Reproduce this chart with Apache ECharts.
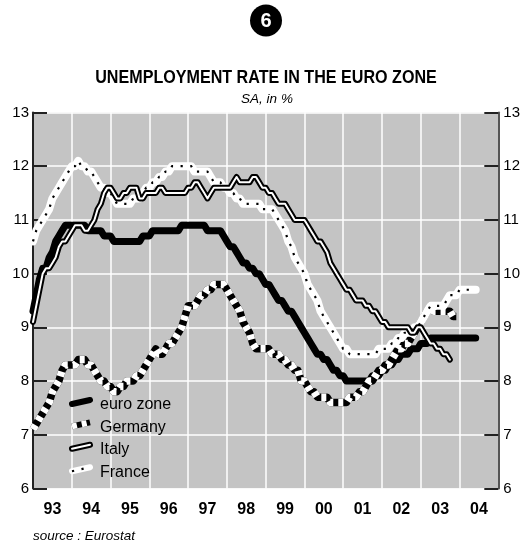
<!DOCTYPE html>
<html><head><meta charset="utf-8">
<style>html,body{margin:0;padding:0;background:#fff}#c{width:523px;height:548px}</style>
<script src="https://cdn.jsdelivr.net/npm/echarts@6/dist/echarts.min.js"></script>
</head><body><div id="c"></div>
<script>
const yearLabels=['93','94','95','96','97','98','99','00','01','02','03','04'];
const legendNames=['euro zone','Germany','Italy','France'];
const yTicks=[6,7,8,9,10,11,12,13];
const euroZone=[
9.3,9.6,9.9,10.1,10.1,10.3,10.4,10.6,10.7,10.8,10.9,10.9,
10.9,10.9,10.9,10.9,10.9,10.8,10.8,10.8,10.8,10.8,10.7,10.7,
10.7,10.6,10.6,10.6,10.6,10.6,10.6,10.6,10.6,10.6,10.7,10.7,
10.7,10.8,10.8,10.8,10.8,10.8,10.8,10.8,10.8,10.8,10.9,10.9,
10.9,10.9,10.9,10.9,10.9,10.9,10.8,10.8,10.8,10.8,10.8,10.7,
10.6,10.5,10.5,10.4,10.3,10.2,10.2,10.1,10.1,10.0,10.0,9.9,
9.8,9.8,9.7,9.6,9.5,9.5,9.4,9.3,9.3,9.2,9.1,9.0,
8.9,8.8,8.7,8.6,8.5,8.5,8.4,8.4,8.3,8.2,8.2,8.1,
8.1,8.0,8.0,8.0,8.0,8.0,8.0,8.0,8.0,8.1,8.1,8.1,
8.2,8.2,8.3,8.3,8.4,8.4,8.5,8.5,8.5,8.6,8.6,8.6,
8.7,8.7,8.7,8.8,8.8,8.8,8.8,8.8,8.8,8.8,8.8,8.8,
8.8,8.8,8.8,8.8,8.8,8.8];
const germany=[
7.1,7.2,7.3,7.4,7.5,7.6,7.8,7.9,8.0,8.2,8.3,8.3,
8.3,8.3,8.4,8.4,8.4,8.3,8.3,8.2,8.1,8.0,8.0,7.9,
7.9,7.8,7.8,7.9,7.9,8.0,8.0,8.0,8.1,8.1,8.2,8.3,
8.4,8.5,8.6,8.5,8.5,8.6,8.7,8.7,8.8,8.9,9.0,9.2,
9.4,9.4,9.4,9.5,9.6,9.6,9.7,9.7,9.8,9.8,9.8,9.8,
9.7,9.6,9.5,9.4,9.3,9.1,9.0,8.9,8.7,8.6,8.6,8.6,
8.6,8.6,8.5,8.5,8.5,8.4,8.4,8.3,8.3,8.2,8.2,8.0,
8.0,7.9,7.8,7.8,7.7,7.7,7.7,7.7,7.6,7.6,7.6,7.6,
7.6,7.6,7.7,7.7,7.7,7.8,7.8,7.9,8.0,8.0,8.1,8.2,
8.2,8.3,8.3,8.4,8.5,8.6,8.6,8.7,8.7,8.8,8.9,9.0,
9.1,9.2,9.3,9.4,9.3,9.3,9.3,9.3,9.3,9.3,9.2,9.2];
const italy=[
9.1,9.4,9.7,10.0,10.1,10.1,10.2,10.3,10.5,10.6,10.6,10.7,
10.8,10.9,10.9,10.9,10.8,10.8,10.9,11.0,11.2,11.3,11.5,11.6,
11.6,11.5,11.4,11.4,11.5,11.5,11.6,11.6,11.6,11.4,11.4,11.5,
11.5,11.5,11.5,11.6,11.6,11.5,11.5,11.5,11.5,11.5,11.5,11.5,
11.6,11.6,11.7,11.7,11.6,11.5,11.4,11.5,11.6,11.6,11.6,11.6,
11.6,11.6,11.7,11.8,11.7,11.7,11.7,11.7,11.8,11.8,11.7,11.6,
11.6,11.5,11.5,11.4,11.3,11.3,11.3,11.2,11.1,11.0,11.0,11.0,
11.0,10.9,10.8,10.7,10.6,10.6,10.5,10.4,10.2,10.1,10.0,9.9,
9.8,9.7,9.7,9.6,9.5,9.5,9.5,9.4,9.4,9.3,9.3,9.2,
9.1,9.1,9.0,9.0,9.0,9.0,9.0,9.0,9.0,8.9,8.9,9.0,
9.0,8.9,8.8,8.7,8.7,8.6,8.6,8.5,8.5,8.4];
const france=[
10.6,10.8,10.9,11.0,11.1,11.2,11.4,11.5,11.6,11.7,11.8,11.9,
12.0,12.0,12.1,12.0,12.0,11.9,11.9,11.8,11.7,11.6,11.6,11.5,
11.5,11.4,11.3,11.3,11.3,11.3,11.3,11.4,11.4,11.4,11.5,11.6,
11.6,11.7,11.7,11.8,11.8,11.9,11.9,12.0,12.0,12.0,12.0,12.0,
12.0,12.0,11.9,11.9,11.9,11.9,11.9,11.8,11.7,11.7,11.7,11.6,
11.6,11.5,11.5,11.4,11.4,11.3,11.3,11.3,11.3,11.3,11.3,11.2,
11.2,11.2,11.2,11.1,11.0,10.9,10.8,10.6,10.5,10.3,10.2,10.1,
10.0,9.8,9.7,9.6,9.5,9.3,9.2,9.1,9.0,8.9,8.8,8.7,
8.6,8.6,8.5,8.5,8.5,8.5,8.5,8.5,8.5,8.5,8.5,8.6,
8.6,8.6,8.6,8.7,8.7,8.8,8.8,8.9,8.9,8.9,9.0,9.0,
9.1,9.2,9.3,9.4,9.4,9.4,9.4,9.4,9.5,9.6,9.6,9.6,
9.7,9.7,9.7,9.7,9.7,9.7];

const FONT2='"Liberation Sans",Arial,sans-serif';
const pts=a=>a.map((v,i)=>[i,v]);
function ln(name,data,color,width,type,z,cap){
  return {name,type:'line',xAxisIndex:1,yAxisIndex:0,data:pts(data),showSymbol:false,symbol:'none',silent:true,z,
    animation:false,lineStyle:{color,width,type:type||'solid',cap:cap||'butt',join:'round',opacity:1},itemStyle:{color:'transparent'}};
}
const styles={
 'euro zone':[['#000',7,'solid','round']],
 'Germany':[['#000',7.5,'solid','butt'],['#fff',7.5,[5,5],'butt']],
 'Italy':[['#000',6,'solid','round'],['#fff',2,'solid','round']],
 'France':[['#fff',8,'solid','round'],['#000',2.2,[2.2,7.5],'butt']]
};
const dataBy={'euro zone':euroZone,'Germany':germany,'Italy':italy,'France':france};
const series=[];
let z=3;
['euro zone','Germany','France','Italy'].forEach(n=>{
  styles[n].forEach((s,k)=>{series.push(ln(k===0?n:n+' overlay',dataBy[n],s[0],s[1],s[2],z++,s[3]));});
});
const swatches=[];
legendNames.forEach((n,i)=>{
  styles[n].forEach((s,k)=>{
    swatches.push({type:'line',z:100,shape:{x1:72,y1:404+i*22.4,x2:90,y2:400+i*22.4},
      style:{stroke:s[0],lineWidth:Math.min(s[1],6),lineDash:Array.isArray(s[2])?s[2]:null,lineCap:s[3]}});
  });
});
const chart=echarts.init(document.getElementById('c'),null,{renderer:'canvas'});
chart.setOption({
 animation:false,backgroundColor:'#fff',
 title:[
  {text:'SA, in %',left:267,top:92,textAlign:'center',padding:0,
   textStyle:{fontFamily:FONT2,fontStyle:'italic',fontWeight:'normal',fontSize:13.5,color:'#000'}},
  {text:'source : Eurostat',left:33,top:529,padding:0,
   textStyle:{fontFamily:FONT2,fontStyle:'italic',fontWeight:'normal',fontSize:13.5,color:'#000'}}
 ],
 legend:{show:true,data:legendNames,orient:'vertical',left:72,top:396,itemWidth:20,itemHeight:18,itemGap:4.4,
  selectedMode:false,icon:'rect',itemStyle:{color:'transparent',borderWidth:0},lineStyle:{width:0},
  textStyle:{fontFamily:FONT2,fontSize:16,color:'#000',padding:[0,0,0,3]},padding:0},
 grid:{left:33,top:112.5,width:466,height:376,show:true,backgroundColor:'#c4c4c4',borderWidth:0},
 xAxis:[
  {type:'category',data:yearLabels,boundaryGap:true,position:'bottom',
   axisLine:{show:false},axisTick:{show:false},
   splitLine:{show:true,interval:0,lineStyle:{color:'#fff',width:1.5}},
   axisLabel:{interval:0,margin:13,fontFamily:FONT2,fontWeight:'bold',fontSize:16,color:'#000'}},
  {type:'value',min:0,max:144,show:false,splitLine:{show:false}}
 ],
 yAxis:[
  {type:'value',min:6,max:13,interval:1,position:'left',
   axisLine:{show:true,onZero:false,lineStyle:{color:'#222',width:2}},
   axisTick:{show:true,inside:true,length:14,lineStyle:{color:'#222',width:2}},
   splitLine:{show:true,lineStyle:{color:'#fff',width:1.5}},
   axisLabel:{margin:4,fontFamily:FONT2,fontSize:15,color:'#000',formatter:v=>yTicks.includes(v)?String(v):''}},
  {type:'value',min:6,max:13,interval:1,position:'right',
   axisLine:{show:true,onZero:false,lineStyle:{color:'#555',width:2}},
   axisTick:{show:true,inside:true,length:14,lineStyle:{color:'#222',width:2}},
   splitLine:{show:false},
   axisLabel:{margin:5,fontFamily:FONT2,fontSize:15,color:'#000',formatter:v=>yTicks.includes(v)?String(v):''}}
 ],
 series,
 graphic:[
  ...swatches,
  {type:'text',z:100,x:266,y:78.5,scaleX:0.895,style:{text:'UNEMPLOYMENT RATE IN THE EURO ZONE',fill:'#000',font:'bold 18px '+FONT2,textAlign:'center',textVerticalAlign:'middle'}},
  {type:'circle',z:100,shape:{cx:266,cy:20.5,r:16},style:{fill:'#000'}},
  {type:'text',z:101,x:266,y:21,style:{text:'6',fill:'#fff',font:'bold 20px '+FONT2,textAlign:'center',textVerticalAlign:'middle'}}
 ]
});
</script></body></html>
